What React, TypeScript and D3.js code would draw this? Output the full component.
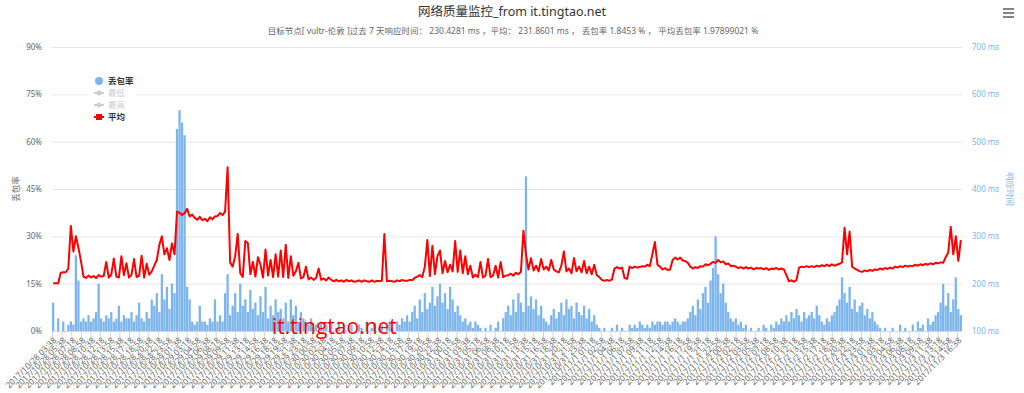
import React from "react";
import * as d3 from "d3";

// packet loss (%) per sample, left axis
const lossPct = [
  9, 0, 4, 0, 3, 0, 2, 3, 2, 24,
  16, 3, 4, 3, 5, 3, 4, 6, 15, 4,
  3, 5, 4, 6, 3, 4, 8, 3, 5, 4,
  4, 6, 3, 5, 9, 4, 3, 6, 4, 10,
  8, 12, 6, 18, 10, 14, 7, 15, 12, 64,
  70, 66, 62, 14, 10, 3, 2, 3, 8, 3,
  3, 2, 4, 3, 10, 3, 5, 3, 12, 18,
  5, 8, 12, 6, 15, 8, 10, 6, 13, 7,
  9, 5, 11, 6, 14, 4, 8, 5, 10, 6,
  7, 4, 9, 3, 10, 5, 8, 3, 6, 4,
  3, 2, 4, 1, 2, 0, 3, 1, 2, 0,
  2, 0, 1, 3, 0, 2, 0, 1, 2, 0,
  0, 2, 1, 0, 3, 0, 1, 2, 0, 1,
  2, 0, 1, 3, 1, 0, 3, 2, 4, 3,
  5, 3, 6, 8, 4, 10, 6, 12, 7, 9,
  14, 8, 11, 15, 9, 12, 7, 14, 10, 6,
  8, 5, 3, 4, 2, 3, 1, 3, 2, 1,
  0, 1, 0, 2, 0, 1, 3, 0, 4, 6,
  8, 5, 10, 6, 12, 9, 6, 49, 8, 11,
  7, 10, 5, 8, 4, 3, 2, 5, 7, 4,
  6, 9, 5, 10, 7, 8, 4, 9, 6, 5,
  8, 4, 7, 3, 5, 2, 1, 0, 1, 0,
  0, 1, 0, 2, 0, 1, 0, 0, 2, 1,
  2, 1, 3, 2, 1, 2, 1, 3, 2, 3,
  3, 2, 3, 3, 2, 3, 4, 3, 2, 3,
  3, 4, 6, 8, 5, 10, 7, 12, 14, 9,
  16, 20, 30, 18, 12, 15, 9, 6, 4, 3,
  4, 2, 3, 1, 2, 0, 1, 0, 0, 1,
  0, 2, 1, 0, 2, 1, 3, 2, 4, 3,
  5, 3, 6, 4, 7, 5, 3, 6, 4, 5,
  6, 4, 8, 5, 3, 2, 4, 3, 5, 6,
  8, 10, 17, 12, 9, 14, 7, 10, 6, 8,
  9, 5, 7, 4, 6, 3, 2, 1, 0, 1,
  0, 0, 1, 0, 0, 2, 0, 1, 0, 0,
  2, 0, 3, 1, 2, 0, 4, 2, 3, 5,
  6, 9, 15, 8, 12, 6, 10, 17, 7, 5,
];

// average response time (ms) per sample, right axis
const avgMs = [
  201, 201, 201, 223, 224, 224, 232, 322, 268, 300,
  276, 248, 215, 212, 217, 213, 216, 212, 218, 215,
  216, 246, 213, 219, 253, 215, 213, 258, 218, 243,
  213, 219, 252, 214, 217, 259, 213, 242, 219, 226,
  238, 250, 282, 300, 262, 275, 250, 285, 262, 352,
  350, 345, 349, 358, 342, 346, 339, 335, 341, 334,
  337, 332, 340, 336, 342, 343, 349, 345, 352, 446,
  245, 236, 258, 305, 222, 214, 290, 286, 220, 246,
  215, 256, 240, 213, 272, 217, 250, 214, 262, 215,
  270, 214, 282, 212, 258, 217, 226, 244, 211, 214,
  236, 209, 213, 208, 212, 232, 208, 211, 207, 213,
  208, 205, 208, 205, 207, 204, 208, 205, 207, 204,
  205, 207, 204, 207, 205, 204, 207, 204, 206, 205,
  206, 305, 205, 206, 205, 204, 207, 205, 208, 206,
  206, 208, 207, 212, 215, 218, 214, 236, 292, 216,
  280, 220, 258, 270, 222, 248, 224, 240, 226, 290,
  225, 270, 222, 258, 220, 238, 213, 219, 214, 246,
  213, 217, 252, 214, 217, 238, 213, 246, 214, 217,
  218, 221, 217, 223, 220, 225, 312, 262, 230, 254,
  228, 238, 226, 252, 230, 236, 228, 250, 230, 226,
  224, 238, 268, 226, 232, 222, 254, 226, 236, 224,
  248, 222, 236, 220, 240, 218, 214, 208, 206, 208,
  206, 209, 232, 235, 232, 234, 212, 210, 236, 233,
  236, 234, 235, 237, 236, 240, 237, 262, 288, 240,
  236, 230, 233, 229, 230, 250, 255, 251, 255, 249,
  248, 244, 236, 232, 235, 233, 237, 236, 241, 239,
  242, 246, 244, 250, 245, 247, 241, 243, 237, 238,
  236, 233, 235, 232, 235, 232, 234, 230, 233, 232,
  233, 230, 233, 229, 232, 231, 233, 230, 232, 230,
  218, 205, 207, 204, 208, 234, 236, 235, 237, 235,
  237, 235, 238, 236, 239, 237, 240, 237, 241, 238,
  240, 242, 245, 318, 262, 310, 236, 232, 229, 226,
  225, 228, 226, 229, 227, 230, 229, 232, 230, 233,
  231, 234, 232, 236, 234, 237, 235, 238, 236, 238,
  237, 240, 238, 241, 239, 242, 240, 243, 241, 244,
  243, 245, 244, 256, 266, 320, 262, 300, 248, 292,
];

// category labels shown on the x axis
const labelDays: [string, string[]][] = [
  ["2017/10/28", ["03:38", "05:38", "07:18", "08:58", "10:38", "12:18", "13:58", "15:38", "17:18", "18:58", "20:38", "22:18", "23:58"]],
  ["2017/10/29", ["01:38", "03:18", "04:58", "06:38", "08:18", "09:58", "11:38", "13:18", "14:58", "16:38", "18:18", "19:58", "21:38", "23:18"]],
  ["2017/10/30", ["00:58", "02:38", "04:18", "05:58", "07:38", "09:18", "10:58", "12:38", "14:18", "15:58", "17:38", "19:18", "20:58", "22:38"]],
  ["2017/10/31", ["00:18", "01:58", "03:38", "05:18", "06:58", "08:38", "10:18", "11:58", "13:38", "15:18", "16:58", "18:38", "20:18", "21:58", "23:38"]],
  ["2017/11/1", ["01:18", "02:58", "04:38", "06:18", "07:58", "09:38", "11:18", "12:58", "14:38", "16:18", "17:58", "19:38", "21:18", "22:58"]],
  ["2017/11/2", ["00:38", "02:18", "03:58", "05:38", "07:18", "08:58", "10:38", "12:18", "13:58", "15:38", "17:18", "18:58", "20:38", "22:18", "23:58"]],
  ["2017/11/3", ["01:38", "03:18", "04:58", "06:38", "08:18", "09:58", "11:38", "13:18", "14:58", "16:38"]],
];
const xLabels = labelDays.flatMap(([day, times]) => times.map((t) => `${day} ${t}`));

const lossTicks = [0, 15, 30, 45, 60, 75, 90];
const msTicks = [100, 200, 300, 400, 500, 600, 700];

const legendItems = [
  { name: "丢包率", color: "#7cb5ec", visible: true, marker: "bubble" },
  { name: "最低", color: "#cccccc", visible: false, marker: "circle" },
  { name: "最高", color: "#cccccc", visible: false, marker: "diamond" },
  { name: "平均", color: "#ff0000", visible: true, marker: "square" },
];

const FONT = "'Noto Sans', 'Noto Sans CJK SC', sans-serif";

export default function App() {
  const width = 1024;
  const height = 393;
  const plotLeft = 52;
  const plotRight = 962;
  const plotTop = 47;
  const plotBottom = 331;

  const x = d3
    .scaleBand<number>()
    .domain(d3.range(avgMs.length))
    .range([plotLeft, plotRight])
    .paddingInner(0.1);
  const xTick = d3.scalePoint<string>().domain(xLabels).range([plotLeft, 957]);
  const yLoss = d3.scaleLinear().domain([0, 90]).range([plotBottom, plotTop]);
  const yMs = d3.scaleLinear().domain([100, 700]).range([plotBottom, plotTop]);

  const line = d3
    .line<number>()
    .x((_, i) => (x(i) as number) + x.bandwidth() / 2)
    .y((d) => yMs(d));

  return (
    <svg
      width={width}
      height={height}
      style={{ position: "absolute", left: 0, top: 0, background: "#fff" }}
      fontFamily={FONT}
    >
      <text x={512} y={16} textAnchor="middle" fontSize={12.5} fill="#333">
        网络质量监控_from it.tingtao.net
      </text>
      <text x={513} y={34} textAnchor="middle" fontSize={8.5} fill="#666">
        目标节点[ vultr-伦敦 ]过去 7 天响应时间： 230.4281 ms ，平均： 231.8601 ms ， 丢包率 1.8453 % ， 平均丢包率 1.97899021 %
      </text>

      {/* menu icon */}
      <g stroke="#666" strokeWidth={1.6}>
        {[9, 13, 17].map((yy) => (
          <line key={yy} x1={1003} x2={1014} y1={yy} y2={yy} />
        ))}
      </g>

      {/* grid */}
      {lossTicks.map((t) => (
        <line
          key={t}
          x1={plotLeft}
          x2={plotRight}
          y1={yLoss(t) + 0.5}
          y2={yLoss(t) + 0.5}
          stroke="#e6e6e6"
        />
      ))}

      {/* left axis */}
      {lossTicks.map((t) => (
        <text key={t} x={42} y={yLoss(t) + 3} textAnchor="end" fontSize={8} fill="#666">
          {t}%
        </text>
      ))}
      <text transform="translate(19,189) rotate(-90)" textAnchor="middle" fontSize={8.5} fill="#666">
        丢包率
      </text>

      {/* right axis */}
      {msTicks.map((t) => (
        <text key={t} x={972} y={yMs(t) + 3} fontSize={8} fill="#7cb5ec">
          {t} ms
        </text>
      ))}
      <text transform="translate(1007,189) rotate(90)" textAnchor="middle" fontSize={8.5} fill="#7cb5ec">
        响应时间
      </text>

      {/* bars */}
      <g fill="#7cb5ec">
        {lossPct.map((d, i) =>
          d > 0 ? (
            <rect
              key={i}
              x={x(i)}
              y={yLoss(d)}
              width={x.bandwidth()}
              height={plotBottom - yLoss(d)}
            />
          ) : null
        )}
      </g>

      {/* line */}
      <path d={line(avgMs) ?? ""} fill="none" stroke="#ff0000" strokeWidth={2} strokeLinejoin="round" />

      {/* x axis */}
      <line x1={plotLeft} x2={plotRight} y1={plotBottom + 0.5} y2={plotBottom + 0.5} stroke="#ccd6eb" />
      {xLabels.map((lab) => {
        const px = xTick(lab) as number;
        return (
          <g key={lab}>
            <line x1={px + 0.5} x2={px + 0.5} y1={plotBottom} y2={plotBottom + 8} stroke="#ccd6eb" />
            <text
              transform={`translate(${px + 5},${plotBottom + 10}) rotate(-45)`}
              textAnchor="end"
              fontSize={8.3}
              fill="#666"
            >
              {lab}
            </text>
          </g>
        );
      })}

      {/* legend */}
      <rect x={88} y={72} width={49} height={54} fill="#fff" />
      {legendItems.map((item, i) => {
        const ly = 81 + i * 12;
        return (
          <g key={item.name}>
            {item.marker === "bubble" && <circle cx={99} cy={ly} r={4} fill={item.color} />}
            {item.marker !== "bubble" && (
              <line x1={94} x2={104} y1={ly} y2={ly} stroke={item.color} strokeWidth={2} />
            )}
            {item.marker === "circle" && <circle cx={99} cy={ly} r={2.5} fill={item.color} />}
            {item.marker === "diamond" && (
              <path d={`M99,${ly - 3}L102,${ly}L99,${ly + 3}L96,${ly}Z`} fill={item.color} />
            )}
            {item.marker === "square" && <rect x={96} y={ly - 3} width={6} height={6} fill={item.color} />}
            <text
              x={108}
              y={ly + 3}
              fontSize={8.5}
              fontWeight={item.visible ? "bold" : "normal"}
              fill={item.visible ? "#333" : "#ccc"}
            >
              {item.name}
            </text>
          </g>
        );
      })}

      {/* watermark */}
      <text x={272} y={334} fontSize={21} fill="#ff0000" fontFamily="'Open Sans', sans-serif">
        it.tingtao.net
      </text>
    </svg>
  );
}
